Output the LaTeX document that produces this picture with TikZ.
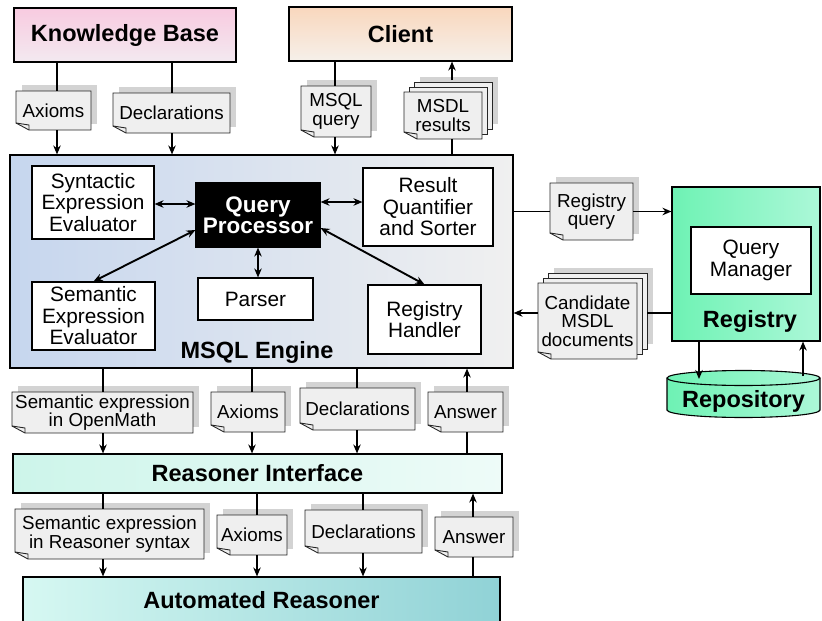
\documentclass[tikz,border=0pt]{standalone}
\usepackage{fontspec}
\setmainfont{Liberation Sans}
\usetikzlibrary{arrows.meta,calc}
\definecolor{kbtop}{HTML}{F8CBE0}
\definecolor{kbbot}{HTML}{F3E9F0}
\definecolor{cltop}{HTML}{F9D7BD}
\definecolor{clbot}{HTML}{F6F0EA}
\definecolor{engl}{HTML}{C6D6EE}
\definecolor{engr}{HTML}{F0F0F0}
\definecolor{regl}{HTML}{6EF2B4}
\definecolor{regr}{HTML}{ACF8D8}
\definecolor{ril}{HTML}{CDF5EA}
\definecolor{rir}{HTML}{EEFBF8}
\definecolor{arl}{HTML}{D6F8F2}
\definecolor{arr}{HTML}{90D2D6}
\definecolor{docfill}{HTML}{EFEFEF}
\definecolor{shadowc}{HTML}{D3D3D3}
\newcommand\tfnt{\fontsize{23.5}{25}\selectfont\bfseries}
\newcommand\qfnt{\fontsize{22.5}{19.5}\selectfont\bfseries}
\newcommand\bfnt{\fontsize{20.8}{21.5}\selectfont}
\newcommand\dfnt{\fontsize{18.8}{18.5}\selectfont}
\newcommand\pbox[7]{%
  \pgfmathsetmacro\bw{#4-#2}\pgfmathsetmacro\bh{#5-#3}%
  \node[#6, minimum width=\bw pt, minimum height=\bh pt] (#1) at ({(#2+#4)/2},{(#3+#5)/2}) {#7};}
\newcommand\docbody[6]{%
  \draw[docline] (#2,#3) -- (#4,#3) -- (#4,#5) -- ({#2+13},#5) -- (#2,{#5-7}) -- cycle;
  \draw[foldline] (#2,{#5-7}) -- ({#2+13},{#5-5}) -- ({#2+13},#5);
  \pbox{#1}{#2}{#3}{#4}{#5}{doctext}{#6}}
\newcommand\docbox[6]{%
  \fill[shadowc] ({#2+6},{#3-6}) rectangle ({#4+6},{#5-6});
  \docbody{#1}{#2}{#3}{#4}{#5}{#6}}
\newcommand\stackdoc[6]{%
  \fill[shadowc] ({#2+16},{#3-15}) rectangle ({#4+16},{#5-15});
  \draw[docline] ({#2+10},{#3-10}) rectangle ({#4+10},{#5-10});
  \draw[docline] ({#2+5},{#3-5}) rectangle ({#4+5},{#5-5});
  \docbody{#1}{#2}{#3}{#4}{#5}{#6}}
\begin{document}
\begin{tikzpicture}[x=1pt,y=-1pt,
  box/.style={draw=black, line width=1.1pt, inner sep=0pt, align=center},
  title/.style={box, font=\tfnt},
  wbox/.style={box, fill=white, font=\bfnt},
  doctext/.style={inner sep=0pt, align=center, font=\dfnt},
  docline/.style={draw=black!85, line width=0.9pt, fill=docfill},
  foldline/.style={draw=black!85, line width=0.9pt},
  lbl/.style={inner sep=0pt, font=\tfnt},
  conn/.style={line width=1.9pt},
  arw/.style={conn, -{Stealth[length=9pt,width=7.5pt]}},
  darw/.style={conn, {Stealth[length=9pt,width=7.5pt]}-{Stealth[length=9pt,width=7.5pt]}}]
\useasboundingbox (0,0) rectangle (822,621);
% ---- top boxes
\pbox{kb}{14}{8}{236}{62}{title, top color=kbtop, bottom color=kbbot}{Knowledge Base}
\pbox{client}{289}{7}{512}{61}{title, top color=cltop, bottom color=clbot}{Client}
% ---- engine
\pbox{eng}{10}{155}{513}{368}{box, left color=engl, right color=engr}{}
\node[lbl] (englbl) at (257,352) {MSQL Engine};
\pbox{syn}{32}{166}{154}{239}{wbox}{Syntactic\\Expression\\Evaluator}
\pbox{qp}{196}{183}{320}{247}{box, fill=black, text=white, font=\qfnt}{Query\\Processor}
\pbox{res}{363}{168}{493}{246}{wbox}{Result\\Quantifier\\and Sorter}
\pbox{sem}{32}{282}{155}{350}{wbox}{Semantic\\Expression\\Evaluator}
\pbox{parser}{198}{278}{313}{320}{wbox}{Parser}
\pbox{rh}{368}{285}{481}{354}{wbox}{Registry\\Handler}
% ---- registry
\pbox{reg}{672}{187}{820}{341}{box, left color=regl, right color=regr}{}
\pbox{qm}{691}{227}{811}{294}{wbox}{Query\\Manager}
\node[lbl] (reglbl) at (750,321) {Registry};
% repository cylinder
\path[draw=black, line width=1.1pt, left color=regl, right color=regr]
  (667,378) -- (667,410) arc[start angle=180, end angle=360, x radius=76.5pt, y radius=7.5pt]
  -- (820,378) arc[start angle=0, end angle=180, x radius=76.5pt, y radius=7.5pt] -- cycle;
\draw[line width=1.1pt] (667,378) arc[start angle=180, end angle=360, x radius=76.5pt, y radius=7.5pt];
\node[lbl] (repo) at (743.5,401) {Repository};
% ---- reasoner
\pbox{ri}{13}{454}{502}{493}{title, left color=ril, right color=rir}{Reasoner Interface}
\pbox{ar}{23}{577}{500}{624}{title, left color=arl, right color=arr}{Automated Reasoner}
% ---- documents
\docbox{ax1}{16}{91}{91}{130}{Axioms}
\docbox{de1}{113}{93}{230}{133}{Declarations}
\docbox{mq}{301}{86}{371}{137}{MSQL\\query}
\stackdoc{mr}{404}{92}{482}{139}{MSDL\\results}
\docbox{regq}{550}{183}{633}{240}{Registry\\query}
\stackdoc{cand}{538}{283}{637}{359}{Candidate\\MSDL\\documents}
\docbox{so1}{12}{392}{193}{433}{Semantic expression\\in OpenMath}
\docbox{ax2}{211}{392}{285}{432}{Axioms}
\docbox{de2}{300}{388}{415}{430}{Declarations}
\docbox{an2}{428}{392}{503}{432}{Answer}
\docbox{so2}{15}{509}{204}{559}{Semantic expression\\in Reasoner syntax}
\docbox{ax3}{217}{515}{287}{555}{Axioms}
\docbox{de3}{305}{510}{422}{553}{Declarations}
\docbox{an3}{435}{517}{513}{557}{Answer}
% ---- connector positions
\coordinate (k1) at (57,0);
\coordinate (k2) at (172,0);
\coordinate (k3) at (335,0);
\coordinate (k4) at (452,80);
\coordinate (m1) at (103,0);
\coordinate (m2) at (252,0);
\coordinate (m3) at (357,0);
\coordinate (m4) at (467,0);
\coordinate (r1) at (103,0);
\coordinate (r2) at (257,0);
\coordinate (r3) at (363,0);
\coordinate (r4) at (473,0);
\coordinate (ya) at (0,204);
\coordinate (yb) at (0,202);
\coordinate (yc) at (0,313);
\coordinate (rin) at (699,379);
\coordinate (rout) at (803,376);
% ---- top connectors
\draw[conn] (kb.south -| k1) -- (ax1.north -| k1);
\draw[arw] (ax1.south -| k1) -- (eng.north -| k1);
\draw[conn] (kb.south -| k2) -- (de1.north -| k2);
\draw[arw] (de1.south -| k2) -- (eng.north -| k2);
\draw[conn] (client.south -| k3) -- (mq.north -| k3);
\draw[arw] (mq.south -| k3) -- (eng.north -| k3);
\draw[conn] (eng.north -| k4) -- (mr.south -| k4);
\draw[arw] (k4) -- (client.south -| k4);
% ---- engine internals
\draw[darw] (syn.east |- ya) -- (qp.west |- ya);
\draw[darw] (qp.east |- yb) -- (res.west |- yb);
\draw[darw] ([yshift=-15pt]qp.west) -- (sem.north);
\draw[darw] (qp.south) -- (qp.south |- parser.north);
\draw[darw] ([yshift=-13pt]qp.east) -- (rh.north);
% ---- registry connectors
\draw[conn] (eng.east |- regq) -- (regq.west);
\draw[arw] (regq.east) -- (reg.west |- regq);
\draw[conn] (reg.west |- yc) -- ($(cand.east |- yc)+(10,0)$);
\draw[arw] (cand.west |- yc) -- (eng.east |- yc);
\draw[arw] (reg.south -| rin) -- (rin);
\draw[arw] (rout) -- (reg.south -| rout);
% ---- middle connectors
\draw[conn] (eng.south -| m1) -- (so1.north -| m1);
\draw[arw] (so1.south -| m1) -- (ri.north -| m1);
\draw[conn] (eng.south -| m2) -- (ax2.north -| m2);
\draw[arw] (ax2.south -| m2) -- (ri.north -| m2);
\draw[conn] (eng.south -| m3) -- (de2.north -| m3);
\draw[arw] (de2.south -| m3) -- (ri.north -| m3);
\draw[conn] (ri.north -| m4) -- (an2.south -| m4);
\draw[arw] (an2.north -| m4) -- (eng.south -| m4);
% ---- lower connectors
\draw[conn] (ri.south -| r1) -- (so2.north -| r1);
\draw[arw] (so2.south -| r1) -- (ar.north -| r1);
\draw[conn] (ri.south -| r2) -- (ax3.north -| r2);
\draw[arw] (ax3.south -| r2) -- (ar.north -| r2);
\draw[conn] (ri.south -| r3) -- (de3.north -| r3);
\draw[arw] (de3.south -| r3) -- (ar.north -| r3);
\draw[conn] (ar.north -| r4) -- (an3.south -| r4);
\draw[arw] (an3.north -| r4) -- (ri.south -| r4);
\end{tikzpicture}
\end{document}
